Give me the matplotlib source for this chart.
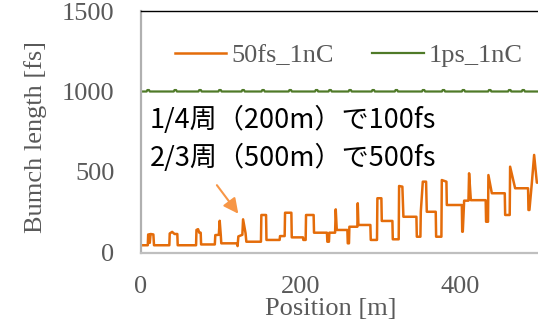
import matplotlib
matplotlib.use("Agg")
import matplotlib.pyplot as plt

# 50fs_1nC : position [m] / bunch length [fs] (step-like trace)
pos_50fs = [0, 8.5, 9, 10.5, 11, 12, 15.5, 16.3,
            35.5, 36, 39, 42, 45.5, 46,
            69, 69.5, 71.5, 73, 74.8, 75.3,
            92.5, 93.1, 97.5, 98.6, 100, 100.6,
            120, 121, 122, 127, 127.9, 131, 132,
            150.3, 150.8, 156.7, 157.2,
            173.7, 174.2, 180, 180.5, 188.4, 188.9,
            203, 203.4, 206.3, 206.8, 216.3, 216.8,
            233, 233.5, 235.5, 236, 243.2, 244, 245.3,
            258.6, 259.1, 260.6, 261.1, 271.1, 271.6, 272.4,
            287.4, 287.9, 295.7, 296.2, 301.2, 301.7,
            315, 315.5, 322.9, 323.4, 327.5, 328.8,
            345.1, 345.6, 350.1, 350.6, 353.1, 357.2, 358.1,
            369.3, 369.8, 376.4, 376.9, 382.7, 383.2,
            402, 402.5, 403.2, 404.9, 410.3, 411.1, 413.3,
            431.9, 432.4, 434.8, 435.3, 439.6,
            455.8, 456.3, 462, 462.5, 468.8,
            485, 485.5, 486.7, 489.7, 492.6, 496, 520]
fs_50fs = [45, 45, 112, 112, 60, 115, 112, 45,
           45, 118, 128, 115, 115, 45,
           45, 140, 145, 123, 123, 50,
           50, 108, 110, 197, 105, 57,
           57, 40, 100, 110, 206, 120, 67,
           67, 233, 233, 78,
           78, 102, 102, 247, 247, 94,
           94, 78, 78, 233, 233, 123,
           123, 67, 67, 123, 123, 268, 140,
           140, 57, 57, 160, 160, 306, 171,
           171, 78, 78, 337, 337, 196,
           196, 82, 82, 413, 409, 222,
           222, 98, 98, 253, 440, 440, 253,
           253, 98, 98, 450, 440, 295,
           295, 129, 129, 322, 322, 492, 325,
           325, 191, 191, 481, 368,
           368, 233, 233, 533, 399,
           399, 264, 264, 430, 606, 434, 434]

# 1ps_1nC : nearly flat around 1000 fs with small bumps
pos_1ps = [0, 7, 8, 10, 11, 41, 42, 44, 45, 72, 73, 75, 76, 97, 98, 100, 101,
           126, 127, 129, 130, 151, 152, 154, 155, 185, 186, 188, 189,
           218, 219, 221, 222, 235, 236, 238, 239, 260, 261, 263, 264,
           289, 290, 292, 293, 318, 319, 321, 322, 352, 353, 355, 356,
           377, 378, 380, 381, 402, 403, 405, 406, 435, 436, 438, 439,
           460, 461, 463, 464, 477, 478, 480, 481, 520]
fs_1ps = [1000, 1000, 1009, 1009, 1000, 1000, 1009, 1009, 1000, 1000, 1009, 1009, 1000,
          1000, 1009, 1009, 1000, 1000, 1009, 1009, 1000, 1000, 1009, 1009, 1000,
          1000, 1009, 1009, 1000, 1000, 1009, 1009, 1000, 1000, 1009, 1009, 1000,
          1000, 1009, 1009, 1000, 1000, 1009, 1009, 1000, 1000, 1009, 1009, 1000,
          1000, 1009, 1009, 1000, 1000, 1009, 1009, 1000, 1000, 1009, 1009, 1000,
          1000, 1009, 1009, 1000, 1000, 1009, 1009, 1000, 1000, 1009, 1009, 1000, 1000]

xticks = [0, 200, 400]
yticks = [0, 500, 1000, 1500]
note_lines = ["1/4周（200m）で100fs", "2/3周（500m）で500fs"]

serif = "Liberation Serif"
gray = "#595959"
fsize = 19

fig = plt.figure(figsize=(5.38, 3.23), dpi=100)
# axes run past the right edge of the picture (cropped chart)
ax = fig.add_axes([141 / 538, 70.5 / 323, 415 / 538, 241.5 / 323])

ax.plot(pos_50fs, fs_50fs, color="#E46C0A", lw=1.8, label="50fs_1nC")
ax.plot(pos_1ps, fs_1ps, color="#4F7A28", lw=1.6, label="1ps_1nC")

ax.set_xlim(0, 520)
ax.set_ylim(0, 1500)
ax.set_xticks(xticks)
ax.set_yticks(yticks)
ax.tick_params(length=0, labelcolor=gray, labelsize=fsize)
ax.tick_params(axis="y", pad=19)
ax.tick_params(axis="x", pad=17)
for lab in ax.get_xticklabels() + ax.get_yticklabels():
    lab.set_family(serif)

ax.spines["top"].set_color("black")
ax.spines["top"].set_linewidth(1.0)
ax.spines["left"].set_color("#B0B0B0")
ax.spines["left"].set_linewidth(1.6)
ax.spines["bottom"].set_color("#BFBFBF")
ax.spines["bottom"].set_linewidth(1.6)
ax.spines["right"].set_visible(False)

leg = fig.legend(loc="center", bbox_to_anchor=(349 / 538, 1 - 55 / 323), ncol=2,
                 frameon=False, handlelength=1.95, handletextpad=0.2,
                 columnspacing=1.45, prop={"family": serif, "size": fsize})
for t in leg.get_texts():
    t.set_color(gray)

fig.text(331 / 538, 1 - 309 / 323, "Position [m]", family=serif, size=fsize,
         color=gray, ha="center", va="center")
fig.text(36 / 538, 1 - 137 / 323, "Bumch length [fs]", family=serif, size=fsize,
         color=gray, ha="center", va="center", rotation=90)

for i, line in enumerate(note_lines):
    fig.text(150 / 538, 1 - (120 + 37.5 * i) / 323, line,
             family=["Noto Sans CJK JP", "DejaVu Sans"], size=19.5,
             color="black", ha="left", va="center")

ax.annotate("", xy=(124, 227), xytext=(93, 432),
            arrowprops=dict(arrowstyle="-|>,head_length=0.9,head_width=0.45",
                            color="#F79646", lw=1.5))

fig.savefig("out.png", dpi=100)
